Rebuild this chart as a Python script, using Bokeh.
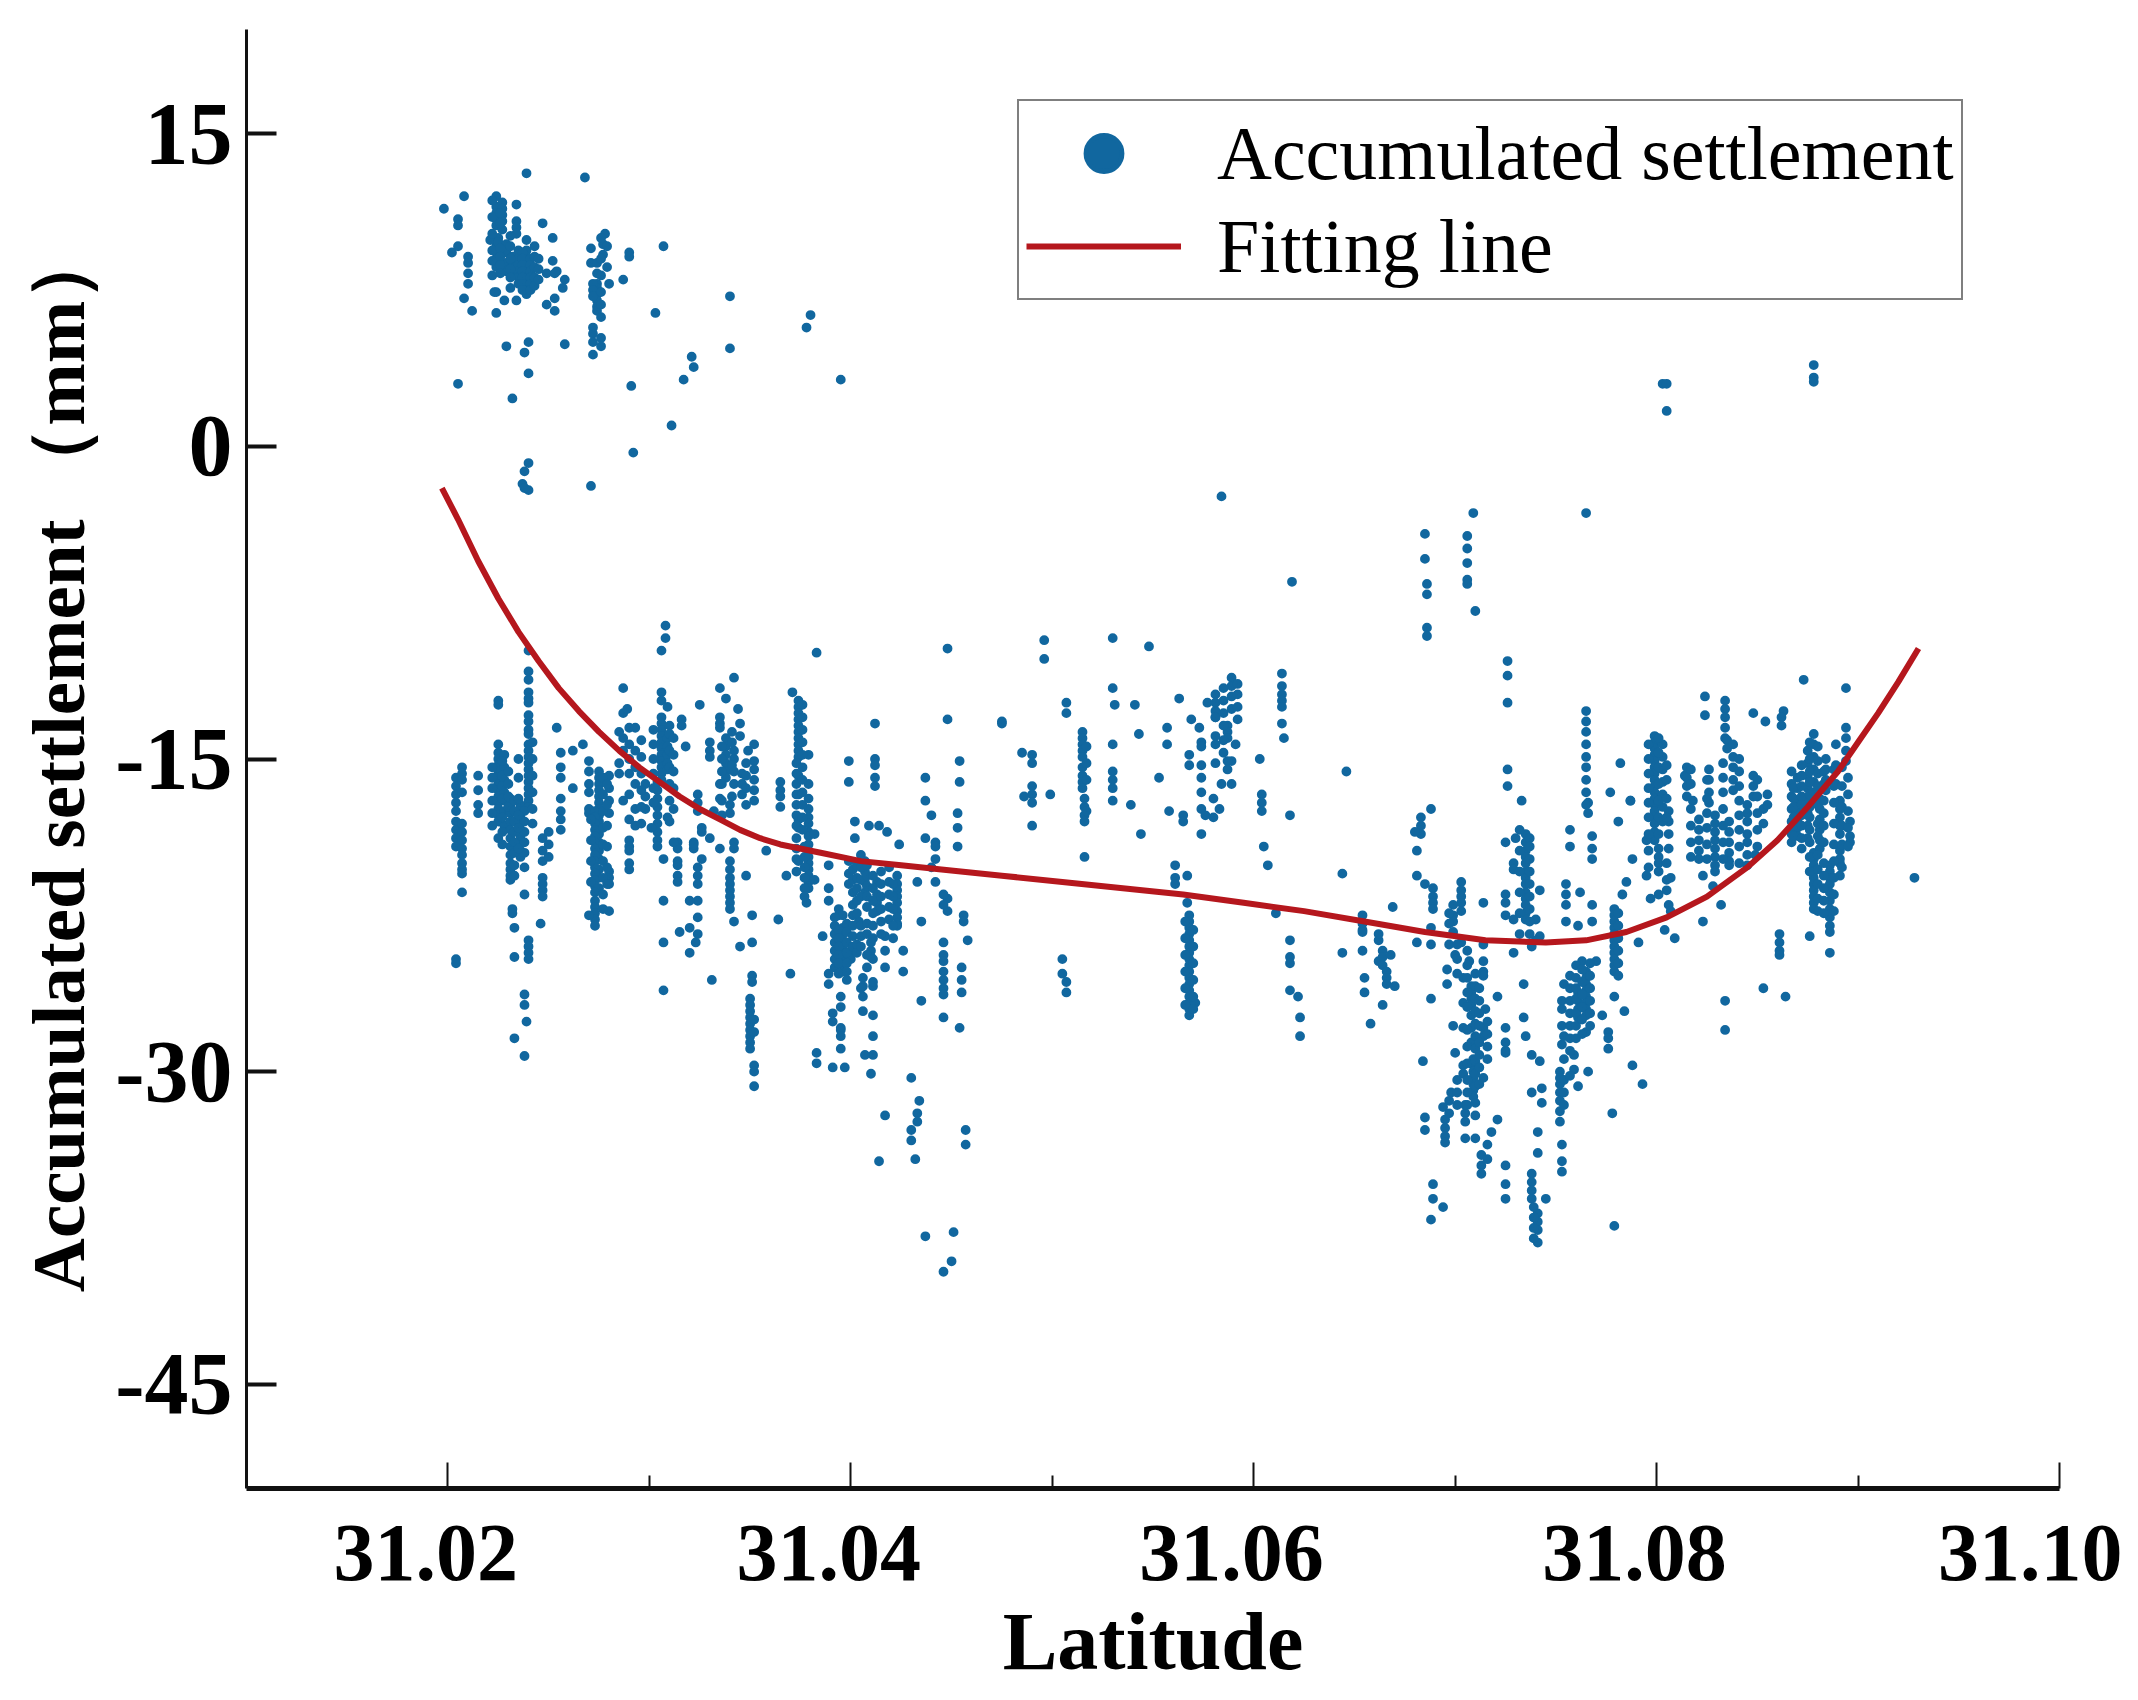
from bokeh.plotting import figure
from bokeh.models import (ColumnDataSource, Range1d, LinearAxis, FixedTicker, PrintfTickFormatter,
                          Legend, LegendItem)
from bokeh.embed import file_html
from bokeh.resources import INLINE

# each entry: (latitude, [accumulated settlement values at that latitude])
upper_left = [
 (31.0239,[13.1]),(31.0268,[12.9]),(31.0208,[12.0]),(31.0198,[11.4]),(31.0205,[10.9,10.6,9.6,3.0]),(31.0202,[9.3]),
 (31.0210,[9.1,8.8,8.3,7.8]),(31.0208,[7.1]),(31.0212,[6.5]),(31.0224,[12.0,11.5,11.2,10.9,10.6,9.6,9.3,9.0,8.6,7.4,6.4]),
 (31.0227,[11.7,11.4,11.1,10.8,10.4]),(31.0234,[11.6,10.8,10.5,10.2,7.0]),(31.0247,[10.7]),(31.0252,[10.0,8.9]),
 (31.0221,[9.9]),(31.0225,[10.0,9.8]),(31.0239,[9.9,9.4,9.1,8.8,8.5,8.2,7.9,7.6,7.3]),(31.0229,[9.7,9.3,8.8,8.4,4.8]),
 (31.0232,[9.1,8.8,8.6,8.3,2.3]),(31.0235,[9.4,9.0,8.7,8.4,8.1,7.8]),(31.0237,[9.3,9.0,8.7,8.4,8.1,7.8,7.5,-1.8]),
 (31.0241,[9.0,8.7,8.4,8.1,7.8,7.5]),(31.0254,[8.4]),(31.0249,[8.3,6.8]),(31.0258,[8.0,4.9]),(31.0257,[7.6]),
 (31.0223,[7.4]),(31.0228,[7.0]),(31.0253,[7.1,6.5,8.3]),(31.0278,[10.2]),(31.0277,[9.7,9.2]),(31.0271,[9.5,8.8,-1.9]),
 (31.0274,[8.8,8.3,7.8,7.6,7.3,7.0,6.7,6.5]),(31.0272,[7.8,7.5,7.2,5.7,5.4,5.0,4.4]),(31.0276,[5.2,4.8]),(31.0280,[7.8]),
 (31.0287,[8.0]),(31.0290,[9.3,9.1]),(31.0307,[9.6]),(31.0303,[6.4]),(31.0340,[7.2,4.7]),(31.0321,[4.3]),(31.0322,[3.8]),
 (31.0317,[3.2]),(31.0291,[2.9]),(31.0311,[1.0]),(31.0292,[-0.3]),(31.0380,[6.3]),(31.0378,[5.7]),(31.0395,[3.2]),
 (31.0240,[5.0,3.5,-0.8,-2.1]),(31.0238,[4.5,-1.2,-2.0]),
]
mid_sparse_high = [
 (31.0584,[-2.4]),(31.0619,[-6.5]),(31.0765,[-3.2]),(31.0709,[-3.2]),(31.0706,[-4.3,-4.9,-5.6,-6.4,-6.6]),(31.0710,[-7.9]),
 (31.0685,[-4.2,-5.4]),(31.0686,[-6.6,-7.1,-8.7,-9.1]),(31.0726,[-10.3,-11.0,-12.3,-15.5,-16.3]),(31.0878,[3.9,3.3,3.1]),
 (31.0803,[3.0]),(31.0805,[3.0,1.7]),(31.0308,[-8.6,-9.2]),(31.0928,[-20.7]),
]
left_a = [
 (31.0204,[-15.9,-16.3,-16.7,-17.1,-17.5,-18.0,-18.4,-18.8,-19.2,-24.6,-24.8]),
 (31.0207,[-15.4,-15.7,-16.0,-16.6,-18.1,-18.5,-18.9,-19.3,-19.6,-20.0,-20.3,-20.5,-21.4]),
 (31.0215,[-15.8,-16.5,-17.2,-17.6]),
 (31.0225,[-12.2,-12.4,-14.3,-14.7,-15.0,-15.3,-15.6,-15.9,-16.2,-16.5,-16.8,-17.1,-17.4,-17.7,-18.0,-18.8]),
 (31.0228,[-14.8,-15.4,-16.0,-16.6,-17.0,-17.5,-18.2]),
 (31.0231,[-16.9,-17.3,-17.6,-18.0,-18.4,-18.8,-19.2,-19.6,-20.0,-20.3,-20.6,-20.8]),
 (31.0236,[-17.2,-17.5,-17.8,-18.1,-18.4,-18.7,-19.0,-19.4,-19.7]),
 (31.0240,[-9.8,-10.8,-11.2,-11.8,-12.1,-12.3,-12.9,-13.2,-13.6,-13.8,-14.3,-14.6,-14.9,-15.2,-15.5,-15.8,-16.1,-16.4,-16.7,-17.0,-17.3,-23.7,-24.0,-24.3,-24.6]),
 (31.0238,[-17.5,-18.0,-18.5,-19.0,-19.5,-20.2,-21.5,-26.3,-26.8,-29.25]),
 (31.0254,[-13.5]),(31.0247,[-20.7,-21.0,-21.3,-21.6,-18.8,-19.4,-19.9]),(31.0232,[-22.2,-22.4]),(31.0246,[-22.9]),
 (31.0233,[-23.1,-24.5,-28.4]),(31.0239,[-27.6]),(31.0250,[-18.5,-19.1,-19.7]),(31.0256,[-18.4,-14.7,-15.4,-15.9,-16.9,-17.5,-17.9]),
 (31.0262,[-14.6,-16.4]),(31.0267,[-14.3]),(31.0270,[-15.1,-15.6,-16.2,-16.6,-17.4,-17.6]),
 (31.0275,[-15.6,-15.9,-16.2,-16.5,-16.8,-17.1,-17.4,-17.7,-18.0,-18.3,-18.6,-19.0,-19.4,-19.8,-20.3,-20.7,-21.2]),
 (31.0273,[-17.5,-17.8,-18.1,-18.4,-18.7,-19.0,-19.3,-19.6,-19.9,-20.2,-20.5,-20.8,-21.1,-21.4,-21.8,-22.1,-22.4,-22.7,-23.0]),
 (31.0280,[-20.4,-20.7,-21.0,-22.3,-15.8,-16.4,-17.0,-17.6]),(31.0270,[-22.5]),
]
left_b = [
 (31.0290,[-18.9,-19.2,-19.4,-20.0,-20.3,-17.9,-13.5,-14.3,-15.0,-15.7,-16.7]),(31.0293,[-18.2,-13.5,-14.6,-15.4,-16.2,-17.4]),
 (31.0287,[-11.6,-12.8,-14.0,-14.6,-17.0]),(31.0289,[-12.6]),(31.0285,[-13.7,-15.2,-15.7]),
 (31.0306,[-9.8,-11.8,-12.2,-13.0,-13.3,-13.6,-13.9,-14.2,-14.5,-14.8,-15.1,-15.4,-15.7,-16.0]),(31.0309,[-12.5,-14.0,-14.4,-14.8,-15.2,-15.5]),
 (31.0316,[-13.1,-13.4]),(31.0318,[-14.4]),(31.0298,[-16.2,-16.8,-17.4]),
 (31.0304,[-16.1,-16.5,-16.9,-17.3,-17.7,-18.1,-18.5,-18.9,-19.2]),(31.0309,[-17.8]),(31.0301,[-18.3]),(31.0307,[-19.8,-21.8,-23.8,-26.1]),
 (31.0314,[-19.0,-19.3,-19.9,-20.1,-20.6,-20.9]),(31.0322,[-19.0,-19.3,-19.1]),(31.0326,[-18.5,-18.3,-19.8]),(31.0330,[-18.8,-14.2,-14.6,-14.9]),
 (31.0335,[-19.3,-11.6,-13.0,-13.3,-13.5,-16.2,-16.9]),(31.0342,[-19.0,-19.3,-11.1,-14.6,-15.0,-15.6,-16.2,-22.8]),
 (31.0324,[-20.2,-20.6,-21.0,-21.8,-22.6,-23.4,-16.7,-17.1,-17.5]),(31.0320,[-21.8,-23.1,-24.3]),(31.0315,[-23.3]),(31.0323,[-23.8]),(31.0331,[-25.6]),
 (31.0340,[-19.9,-20.3,-20.7,-21.0,-21.3,-21.6,-21.9,-22.2,-17.2,-17.6]),(31.0348,[-20.6]),(31.0351,[-22.5,-23.8,-25.4,-25.7]),(31.0364,[-22.7]),(31.0345,[-24.0,-13.3,-13.9]),
 (31.0338,[-12.1,-14.0,-14.4,-14.8,-15.2,-15.6,-15.9]),(31.0325,[-12.4]),(31.0344,[-12.6]),(31.0352,[-14.3,-15.1,-15.5,-16.0,-16.5,-17.0]),(31.0349,[-14.6]),
 (31.0346,[-15.7,-16.2,-16.7]),(31.0332,[-17.5]),
 (31.0350,[-26.5,-26.8,-27.1,-27.4,-27.7,-28.0,-28.3,-28.6,-28.9]),(31.0352,[-29.7,-30.0,-30.7,-27.5,-28.1]),
]
left_c = [
 (31.0371,[-11.8]),(31.0374,[-12.2,-12.5,-12.8,-13.1,-13.4,-13.7,-14.0,-14.3,-14.6,-14.9,-15.8,-16.7,-17.9,-18.3,-19.9]),
 (31.0379,[-14.8,-16.2,-16.9,-17.4,-17.8,-18.1,-18.5,-18.7,-19.1,-19.4,-19.7,-20.0,-20.3,-20.6,-20.9,-21.2]),
 (31.0365,[-16.1,-16.5,-16.8,-17.3]),(31.0382,[-18.6,-20.8]),(31.0378,[-21.9]),(31.0368,[-20.6]),(31.0358,[-19.4]),
 (31.0399,[-15.1,-16.1,-19.9,-20.5,-21.0]),(31.0412,[-15.0,-15.3,-15.9,-16.3,-13.3]),(31.0383,[-9.9,-29.1,-29.6]),
 (31.0448,[-13.1,-9.7,-21.7,-22.3]),(31.0454,[-15.1,-16.1,-27.9]),(31.0437,[-15.9,-17.0,-18.8,-37.9]),(31.0440,[-17.7,-20.2]),
 (31.0453,[-17.6,-18.3,-19.2]),(31.0402,[-18.0,-18.8]),(31.0409,[-18.2]),(31.0414,[-18.2,-34.3]),(31.0418,[-18.5]),(31.0424,[-19.1]),
 (31.0442,[-19.0,-19.2,-19.8,-20.9]),(31.0389,[-20.1,-21.2,-21.8,-25.3,-25.8]),(31.0407,[-19.9,-20.4,-20.9,-21.4]),(31.0413,[-20.9,-21.5,-21.9,-22.3]),
 (31.0423,[-20.6,-21.0,-21.3,-21.6,-21.9,-22.3,-22.6,-22.9,-23.0]),(31.0394,[-22.2,-22.5]),(31.0404,[-22.8]),
 (31.0396,[-22.5,-23.1,-23.4,-23.7,-24.0,-24.3,-24.6,-24.9,-25.2]),(31.0400,[-24.2,-24.6]),(31.0386,[-23.5]),(31.0410,[-23.8,-24.2,-24.5,-30.1]),
 (31.0417,[-23.5,-24.2,-25.0,-32.1]),(31.0426,[-24.2,-25.2]),(31.0406,[-25.5,-25.9,-26.4,-27.1]),(31.0411,[-25.9,-25.7,-27.3,-28.3,-29.2]),
 (31.0395,[-26.4,-26.9,-27.9,-28.0,-28.3,-28.9]),(31.0391,[-27.2,-27.6,-29.8]),(31.0397,[-29.8]),(31.0407,[-29.2]),(31.0370,[-25.3]),
 (31.0434,[-31.4]),(31.0433,[-32.0,-32.4,-20.9]),(31.0430,[-30.3,-32.8,-33.3]),(31.0457,[-32.8,-33.5]),(31.0432,[-34.2]),
 (31.0451,[-37.7]),(31.0450,[-39.1]),(31.0446,[-39.6,-24.4,-24.7,-25.2,-25.6,-26.0,-21.5,-22.0,-23.8,-26.3,-27.4]),
 (31.0456,[-22.5,-22.8]),(31.0435,[-22.8,-26.6]),(31.0458,[-23.7]),(31.0455,[-25.0,-25.6,-26.2]),
]
mid = [
 (31.0496,[-9.3,-10.2]),(31.0548,[-9.6]),(31.0530,[-9.2,-11.6,-14.3,-15.6,-16.0,-16.4,-17.0]),(31.0531,[-12.4]),(31.0541,[-12.4]),
 (31.0507,[-12.3,-12.8,-25.7,-26.2]),(31.0475,[-13.2,-13.3]),(31.0563,[-12.1]),
 (31.0515,[-13.7,-14.0,-14.3,-14.6,-14.9,-15.4,-15.8,-16.1,-16.4]),(31.0516,[-16.9,-17.3,-17.7,-18.0,-19.7]),(31.0485,[-14.7]),
 (31.0490,[-14.8,-15.2,-16.3,-16.7,-17.1,-18.2]),(31.0486,[-16.8]),(31.0499,[-16.7]),(31.0543,[-13.8]),(31.0539,[-17.2]),
 (31.0557,[-13.5,-14.3]),(31.0553,[-15.9]),(31.0558,[-17.5]),(31.0544,[-18.6]),(31.0565,[-17.7,-18.0]),(31.0574,[-18.6,-15.3,-15.9,-16.6,-17.4,-14.2,-14.4]),
 (31.0569,[-13.1]),(31.0573,[-13.5]),(31.0568,[-14.8,-15.3]),(31.0580,[-16.9,-17.8]),(31.0583,[-17.4]),(31.0576,[-17.7]),
 (31.0589,[-11.1,-11.5,-12.0,-12.6,-15.1,-16.2]),(31.0581,[-11.9,-12.3,-12.7,-13.0,-13.0,-14.3,-13.9,-15.2]),(31.0577,[-12.3]),
 (31.0587,[-13.4,-13.7,-14.0,-15.1,-15.5]),(31.0591,[-14.3]),(31.0584,[-16.2]),(31.0603,[-15.0]),(31.0604,[-16.7,-17.1,-17.5]),(31.0618,[-17.7,-23.7,-24.5,-24.8,-26.1]),
 (31.0605,[-19.2]),(31.0607,[-20.1]),(31.0614,[-10.9,-11.5,-11.9,-12.2,-12.5,-13.3]),(31.0615,[-14.0]),(31.0646,[-15.6]),(31.0644,[-20.5,-24.3]),
 (31.0688,[-17.4,-23.1,-23.9,-26.5,-37.1]),(31.0683,[-17.8,-18.2,-18.6]),(31.0680,[-18.5]),(31.0681,[-19.4,-20.6,-23.8]),
 (31.0561,[-20.1,-20.7,-21.0]),(31.0567,[-20.6,-21.9]),
 (31.0568,[-22.5,-22.8,-23.1,-23.4,-23.7,-24.0,-24.3,-24.6,-24.9,-25.2,-25.5,-25.8,-26.1,-26.4,-26.7,-27.0,-27.3]),(31.0571,[-26.7]),
 (31.0505,[-24.6,-25.3]),(31.0611,[-22.4]),(31.0622,[-26.4]),(31.0623,[-27.4,-28.3]),
 (31.0654,[-22.5,-22.9,-23.2,-23.3,-24.2]),(31.0662,[-23.7,-23.4,-24.7]),(31.0664,[-24.2,-24.5,-24.9,-26.8]),(31.0668,[-24.4]),
 (31.0666,[-25.2,-25.5,-25.8]),(31.0670,[-25.9]),(31.0655,[-25.5,-26.2]),(31.0658,[-27.7]),(31.0669,[-22.1]),
]
lower_right = [
 (31.0689,[-21.2,-21.6,-21.9,-22.2,-35.4,-36.1]),(31.0685,[-21.0,-32.2,-32.8]),(31.0703,[-20.9,-21.3,-21.6,-21.9,-22.3,-23.8]),(31.0699,[-22.0,-22.5,-22.8,-23.3,-27.8]),
 (31.0714,[-21.9,-23.9,-27.9,-28.3,-30.3,-24.7,-25.2,-25.4]),(31.0700,[-24.4,-29.1]),(31.0707,[-24.7]),(31.0696,[-25.1,-25.8]),(31.0704,[-25.5,-26.7,-27.9]),
 (31.0708,[-25.9,-26.2,-26.5,-26.8,-27.3,-27.9,-28.6]),(31.0721,[-26.4,-32.3]),(31.0715,[-27.0]),(31.0734,[-25.8,-27.4]),(31.0725,[-27.9,-28.6,-29.1,-29.0,-19.0,-21.5,-21.9,-22.5,-34.5,-35.4,-36.1]),
 (31.0735,[-28.3,-19.4,-19.7,-20.0,-20.4,-20.7,-21.0,-21.4,-21.7,-22.0,-22.4,-22.7,-19.0,-18.6]),(31.0684,[-29.5]),(31.0738,[-29.2,-31.0,-34.9,-35.3,-35.7,-36.1,-24.0]),(31.0742,[-29.5,-21.3,-23.5]),
 (31.0709,[-29.4,-29.7,-30.0,-30.3,-30.6,-30.9,-31.2]),(31.0704,[-29.7,-30.1]),(31.0698,[-31.0]),(31.0694,[-31.7,-36.5]),(31.0705,[-31.6,-32.0,-32.4,-33.2]),
 (31.0695,[-32.3,-32.7,-33.1,-33.4]),(31.0710,[-33.2]),(31.0718,[-32.9]),(31.0713,[-34.0,-34.5,-34.9]),(31.0743,[-30.8,-31.5]),(31.0741,[-32.9,-33.9,-36.8,-37.2,-37.6,-38.2]),
 (31.0753,[-33.5,-34.3,-34.8,-26.6,-27.0,-27.8,-28.7]),(31.0745,[-36.1]),(31.0752,[-30.0,-30.3,-30.6,-31.0,-31.4,-31.9,-32.4]),(31.0759,[-29.2,-29.9]),(31.0766,[-30.0,-17.1,-17.6]),
 (31.0761,[-30.7,-26.2,-26.6,-27.0,-27.4,-23.0]),(31.0765,[-25.2,-25.5,-25.8,-26.1,-26.4,-26.7,-27.0,-27.3,-28.1,-12.7,-13.2,-13.7,-14.3,-14.9,-15.4,-16.0,-16.6,-17.2]),
 (31.0763,[-24.7]),(31.0770,[-24.7]),(31.0773,[-27.3]),(31.0776,[-28.1,-28.4,-28.9]),(31.0779,[-26.4,-37.4,-22.2,-22.5,-22.8,-23.1,-23.4,-23.7,-24.0,-24.3,-24.6,-24.9,-25.2]),
 (31.0784,[-27.1]),(31.0788,[-29.7,-19.8]),(31.0793,[-30.6]),(31.0778,[-32.0]),(31.0791,[-23.8]),(31.0804,[-23.2]),(31.0809,[-23.6]),(31.0823,[-22.8]),(31.0832,[-22.0]),(31.0828,[-21.1]),
 (31.0834,[-26.6,-28.0,-12.2,-12.6,-13.0,-13.5,-14.0]),(31.0853,[-26.0,-17.4,-18.1]),(31.0864,[-26.4]),(31.0861,[-23.4,-23.8,-24.2,-24.4]),(31.0876,[-23.5]),(31.0886,[-24.3]),
]
upper_right = [
 (31.0733,[-17.0]),(31.0787,[-17.0]),(31.0781,[-18.0]),(31.0757,[-18.4,-19.2]),(31.0768,[-18.7,-19.3,-19.8,-22.0,-22.8]),(31.0785,[-20.9]),(31.0783,[-21.5]),(31.0730,[-18.8]),(31.0737,[-18.8]),
 (31.0729,[-20.0,-20.3,-22.7,-24.3]),(31.0740,[-22.7,-23.7]),(31.0755,[-21.0,-21.5,-22.0,-22.8]),(31.0762,[-21.4]),(31.0797,[-21.7]),(31.0801,[-21.5,-19.3,-19.7,-20.0,-20.4]),(31.0806,[-22.0,-17.5,-18.0,-18.6,-19.3]),(31.0807,[-22.3,-20.7]),
 (31.0777,[-16.6]),(31.0782,[-15.2]),(31.0787,[-17.0]),
 (31.0799,[-13.9,-14.2,-14.5,-14.8,-15.1,-15.4,-15.7,-16.0,-16.3,-16.6,-16.9,-17.2,-17.5,-17.8,-18.1,-18.5,-18.9]),(31.0803,[-14.3,-14.9,-15.5,-16.1,-16.7,-17.3,-18.0]),(31.0795,[-18.9,-20.6]),
 (31.0824,[-12.0,-12.9]),(31.0814,[-15.8]),(31.0835,[-14.1,-14.5]),(31.0821,[-17.9,-18.4,-18.9,-19.4,-19.8]),(31.0829,[-17.7,-18.1,-18.5,-18.9,-19.3,-19.7,-20.1,-20.4]),
 (31.0836,[-18.0,-18.5,-19.0,-19.5,-19.9,-20.1]),(31.0845,[-17.2,-17.6,-18.0,-18.6,-19.0,-19.6,-20.1]),(31.0849,[-19.6]),(31.0823,[-20.6]),(31.0818,[-17.0]),
 (31.0848,[-12.8,-15.8,-16.3,-16.8]),(31.0854,[-13.2]),(31.0863,[-12.7]),(31.0873,[-11.2]),(31.0894,[-11.6,-13.5,-14.0,-14.6,-15.1]),
 (31.0815,[-15.4,-15.9,-16.3,-16.8]),(31.0826,[-15.5,-16.0,-16.6,-17.1]),(31.0838,[-14.3,-14.9,-15.4,-16.0,-16.5]),(31.0855,[-16.7,-17.2]),(31.0862,[-13.0,-13.4]),
 (31.0870,[-17.0,-17.3,-17.6,-18.0,-18.3,-18.7,-15.9,-16.4]),(31.0878,[-19.5,-19.8,-20.1,-20.4,-20.7,-21.0,-21.3,-21.6,-21.9,-22.2,-13.8,-14.3,-14.9,-15.5,-16.1,-16.6,-17.0]),
 (31.0881,[-16.9,-17.4,-17.9,-18.4,-18.9,-19.3]),(31.0886,[-20.1,-20.4,-20.7,-21.0,-21.4,-21.8,-22.2,-22.6,-23.0,-23.3]),
 (31.0891,[-17.0,-17.4,-17.8,-18.2,-18.6,-19.4,-19.8,-20.0,-20.6]),(31.0896,[-18.0,-18.7,-19.0]),(31.0867,[-15.6,-16.2,-16.8,-17.4,-18.0,-18.6,-19.0]),(31.0875,[-14.6,-15.2,-15.8,-16.4,-17.0,-17.6,-18.2,-18.8]),
 (31.0884,[-15.0,-15.5,-16.0,-16.5]),(31.0889,[-14.3,-15.3,-16.2]),
]
# additional readings from the densest streaks
dense_left = [
 (31.0222,[11.8,11.0,10.2,9.4,8.9,8.2]),(31.0226,[11.2,10.7,9.5,9.1,8.7,8.3]),(31.0231,[10.1,9.6,9.0,8.5,8.1,7.6]),(31.0243,[9.6,9.1,8.6,8.1,7.7]),
 (31.0245,[9.0,8.5,8.0]),(31.0276,[10.0,9.0,8.2,7.4,6.8,6.2]),(31.0279,[9.6,8.6]),
 (31.0222,[-15.4,-15.9,-16.4,-17.0,-17.6,-18.2]),(31.0227,[-15.1,-15.8,-16.3,-16.9,-17.8,-18.5,-19.1]),(31.0230,[-15.6,-16.2,-16.8,-17.3]),
 (31.0233,[-17.0,-17.5,-18.0,-18.5,-19.0,-19.5,-20.1,-20.6]),(31.0235,[-15.0,-15.9,-16.9,-17.7,-18.3,-19.3]),(31.0242,[-14.2,-15.0,-15.8,-16.6,-17.4,-18.1]),
 (31.0277,[-15.9,-16.7,-17.5,-18.3,-19.1,-19.9,-20.7,-21.5,-22.2]),(31.0279,[-16.2,-17.2,-18.2,-19.2,-20.2,-21.0]),(31.0271,[-17.9,-18.9,-19.9,-20.9]),
 (31.0302,[-13.6,-14.3,-15.0,-15.7,-16.4,-17.1]),(31.0310,[-13.4,-13.8,-14.6,-15.4,-16.2,-17.0,-18.0]),(31.0312,[-14.0,-14.8,-15.6,-16.4,-17.4,-19.0]),
 (31.0296,[-14.1,-14.9,-15.7,-16.5,-17.3,-18.1]),(31.0336,[-14.4,-15.0,-15.6,-16.2,-17.0,-17.7]),(31.0341,[-13.7,-14.2,-15.3,-16.8]),
 (31.0348,[-15.2,-15.8,-16.4,-17.2]),(31.0373,[-15.2,-15.7,-16.2,-16.7,-17.2,-17.7,-18.2,-18.8,-19.3,-19.8,-20.4]),(31.0376,[-12.4,-13.0,-13.6,-14.2,-14.8,-15.4,-16.0,-16.6,-17.2,-17.8,-18.4]),
 (31.0377,[-19.2,-19.7,-20.2,-20.7,-21.2,-21.6]),
]
dense_mid = [
 (31.0392,[-22.6,-23.0,-23.4,-23.8,-24.2,-24.6,-25.0]),(31.0394,[-23.2,-23.6,-24.0,-24.4,-24.8,-25.3]),(31.0398,[-22.9,-23.3,-23.8,-24.3,-24.8,-25.2,-25.6]),
 (31.0401,[-20.3,-20.8,-21.4,-22.0,-22.5,-23.0,-23.5,-24.0]),(31.0403,[-20.1,-20.7,-21.2,-21.8,-22.4,-23.9,-24.3]),(31.0405,[-19.6,-20.2,-20.8,-21.6,-23.0,-23.5,-24.0,-26.0]),
 (31.0408,[-20.1,-20.6,-21.1,-21.6,-22.1,-22.9,-23.4,-24.4,-25.0]),(31.0411,[-20.6,-21.2,-21.8,-22.4,-23.0,-23.6,-24.6]),(31.0415,[-20.4,-21.0,-21.6,-22.2,-22.8,-23.4]),
 (31.0419,[-20.2,-20.9,-21.5,-22.1,-22.7]),(31.0421,[-21.0,-21.6,-22.2,-23.0,-23.6]),(31.0566,[-22.8,-23.6,-24.4,-25.2,-26.0,-26.8]),(31.0570,[-23.2,-24.0,-24.8,-25.6,-26.4,-27.0]),
 (31.0585,[-11.6,-12.2,-12.8,-13.4,-14.1,-14.7]),(31.0592,[-11.4,-11.9,-12.5,-13.1]),(31.0517,[-14.4,-15.2,-16.0,-17.5]),
]
dense_right = [
 (31.0697,[-22.4,-22.9,-23.9,-31.4,-32.0]),(31.0701,[-23.9,-24.6,-25.3,-30.4,-31.0,-31.6]),(31.0706,[-24.2,-24.9,-25.5,-26.2,-26.9,-28.0,-28.8,-29.6,-30.4,-31.0,-31.6]),
 (31.0710,[-25.3,-25.9,-26.5,-27.1,-27.7,-28.3,-28.9,-29.5,-30.1,-30.7,-31.5,-32.1]),(31.0712,[-26.0,-26.6,-27.2,-27.8,-28.6,-29.2,-29.8,-30.6]),(31.0716,[-27.6,-28.2,-28.8,-29.4,-33.5,-34.2]),
 (31.0732,[-18.4,-19.4,-20.4,-21.4,-22.4,-23.4]),(31.0737,[-19.2,-19.8,-20.4,-21.0,-21.6,-22.2,-22.8,-23.4]),(31.0739,[-36.5,-37.0,-37.5,-38.0]),
 (31.0754,[-25.8,-28.3,-29.4,-30.4,-31.0,-31.6]),(31.0757,[-25.4,-26.0,-26.6,-27.2,-27.8,-28.4,-29.0,-30.2]),(31.0760,[-24.9,-25.5,-26.0,-26.5,-27.2,-27.8,-28.4]),
 (31.0763,[-25.1,-25.7,-26.3,-26.9,-27.5,-28.2]),(31.0767,[-24.8,-25.4,-26.0,-26.6,-27.2,-27.8]),(31.0781,[-22.4,-23.0,-23.6,-24.2,-24.8,-25.4]),
 (31.0796,[-14.3,-15.0,-15.7,-16.4,-17.1,-17.8,-18.6,-19.4,-20.2]),(31.0801,[-14.0,-14.7,-15.4,-16.2,-17.0,-17.8,-18.6]),(31.0805,[-15.3,-16.0,-16.9,-17.8,-20.0,-20.8,-21.3]),
 (31.0817,[-15.5,-16.2,-17.4,-18.2,-19.0,-19.7]),(31.0825,[-16.0,-16.9,-17.6,-18.3,-19.1,-19.8]),(31.0833,[-15.2,-15.9,-16.6,-17.4,-18.2,-19.0,-19.8]),
 (31.0841,[-15.0,-15.6,-16.3,-17.0,-17.7,-18.4,-19.2,-20.0]),(31.0850,[-16.0,-16.8,-17.6,-18.4,-19.2]),
 (31.0868,[-16.4,-16.9,-17.3,-17.8,-18.2,-18.7]),(31.0872,[-15.3,-15.8,-16.3,-16.8,-17.2,-17.7,-18.2,-18.8,-19.3]),(31.0876,[-14.2,-15.0,-15.6,-16.1,-16.7,-17.3,-17.8,-18.4,-19.0,-19.7,-20.4]),
 (31.0880,[-14.4,-15.1,-15.7,-16.3,-17.2,-18.1,-18.7,-19.6,-20.3,-21.0,-21.7,-22.3]),(31.0883,[-15.6,-16.2,-17.0,-17.6,-18.2,-19.0,-20.0,-20.6,-21.2,-21.8,-22.4]),
 (31.0888,[-15.5,-16.3,-17.1,-18.1,-19.1,-19.9,-20.7,-21.5,-22.3]),(31.0892,[-15.4,-16.3,-17.3,-18.2,-19.1,-20.2]),(31.0895,[-15.9,-16.7,-17.5,-18.3,-19.2]),
]
fit_lat = [31.0197,31.0205,31.0215,31.0225,31.0235,31.0245,31.0255,31.0265,31.0275,31.0285,31.0295,31.0305,31.0315,31.0325,31.0335,31.0345,31.0355,31.0365,31.0385,31.0405,31.0425,31.0445,31.0475,31.0505,31.0535,31.0565,31.0595,31.0625,31.0655,31.0685,31.0715,31.0745,31.0765,31.0785,31.0805,31.0825,31.0845,31.0860,31.0875,31.0890,31.0900,31.0910,31.0920,31.0930]
fit_val = [-2.0,-3.5,-5.5,-7.3,-8.9,-10.3,-11.6,-12.7,-13.7,-14.6,-15.4,-16.1,-16.8,-17.4,-17.9,-18.4,-18.8,-19.1,-19.5,-19.9,-20.1,-20.3,-20.6,-20.9,-21.2,-21.5,-21.9,-22.3,-22.8,-23.3,-23.7,-23.8,-23.7,-23.3,-22.6,-21.6,-20.2,-18.9,-17.3,-15.6,-14.2,-12.8,-11.3,-9.7]

x_major = [31.02,31.04,31.06,31.08,31.10]
x_minor = [31.03,31.05,31.07,31.09]
y_major = [15,0,-15,-30,-45]
SERIF = "Liberation Serif"

lat, val = [], []
for zone in (upper_left, mid_sparse_high, left_a, left_b, left_c, mid, lower_right, upper_right, dense_left, dense_mid, dense_right):
    for la, vs in zone:
        for v in vs:
            lat.append(la); val.append(v)

p = figure(width=2122, height=1690, output_backend="svg", toolbar_location=None,
           x_range=Range1d(31.01,31.10), y_range=Range1d(-50,20),
           x_axis_type=None, y_axis_type=None,
           min_border_left=246, min_border_right=63, min_border_top=29, min_border_bottom=202)
p.outline_line_color=None
p.background_fill_color="white"
p.grid.visible=False

xa = LinearAxis(ticker=FixedTicker(ticks=x_major, minor_ticks=x_minor),
                major_label_overrides={t:"" for t in x_major},
                axis_line_width=5, axis_line_color="#111111",
                major_tick_in=26, major_tick_out=0, minor_tick_in=13, minor_tick_out=0,
                major_tick_line_width=2, minor_tick_line_width=2,
                major_tick_line_color="#111111", minor_tick_line_color="#111111",
                major_label_standoff=0, major_label_text_font_size="1px")
p.add_layout(xa,"below")
p.extra_x_ranges["labels"]=Range1d(31.01+0.0011,31.10+0.0011)
xl = LinearAxis(x_range_name="labels", ticker=FixedTicker(ticks=x_major),
                formatter=PrintfTickFormatter(format="%.2f"),
                axis_line_color=None, major_tick_line_color=None, minor_tick_line_color=None,
                major_tick_in=0, major_tick_out=0,
                major_label_standoff=37, major_label_text_font=SERIF, major_label_text_font_style="bold",
                major_label_text_font_size="82px", major_label_text_color="black",
                axis_label="Latitude", axis_label_text_font=SERIF, axis_label_text_font_style="bold",
                axis_label_text_font_size="82px", axis_label_text_color="black", axis_label_standoff=13)
p.add_layout(xl,"below")

ya = LinearAxis(ticker=FixedTicker(ticks=y_major), formatter=PrintfTickFormatter(format="%d"),
                axis_line_width=3, axis_line_color="#111111",
                major_tick_in=30, major_tick_out=0, major_tick_line_width=4, major_tick_line_color="#111111",
                minor_tick_line_color=None,
                major_label_standoff=14, major_label_text_font=SERIF, major_label_text_font_style="bold",
                major_label_text_font_size="88px", major_label_text_color="black",
                axis_label="Accumulated settlement （mm）", axis_label_text_font=SERIF, axis_label_text_font_style="bold",
                axis_label_text_font_size="75px", axis_label_text_color="black", axis_label_standoff=12)
p.add_layout(ya,"left")

src = ColumnDataSource(dict(lat=lat,val=val))
pts = p.scatter("lat","val",source=src,size=5,marker="circle",fill_color="#11679F",line_color="#11679F",line_width=4.8)
fit = ColumnDataSource(dict(lat=fit_lat,val=fit_val))
ln = p.line("lat","val",source=fit,line_color="#B5171D",line_width=6)

leg = Legend(items=[LegendItem(label="Accumulated settlement",renderers=[pts]),LegendItem(label="Fitting line",renderers=[ln])],
             location=(771,1188), orientation="vertical", margin=0, padding=7, spacing=3,
             glyph_width=155, glyph_height=90, label_standoff=36, label_height=90,
             label_text_font=SERIF, label_text_font_size="76px", label_text_color="black",
             border_line_color="#000000", border_line_width=2, background_fill_color="white", background_fill_alpha=1)
p.add_layout(leg,"center")

open("out.html","w").write(file_html(p,INLINE))
